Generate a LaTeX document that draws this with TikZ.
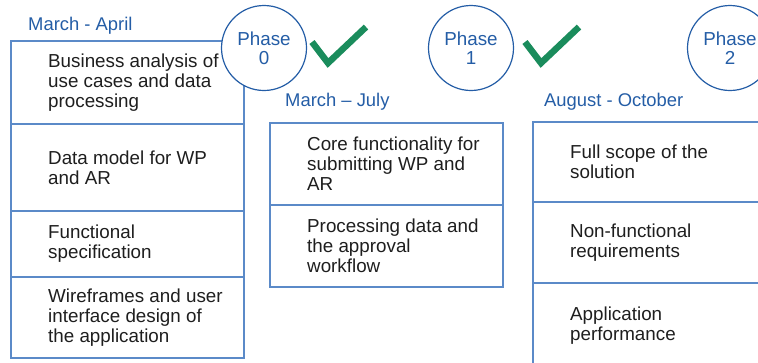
\documentclass[tikz,border=0pt]{standalone}
\usepackage{fontspec}
\setmainfont{Liberation Sans}
\usetikzlibrary{positioning}
\definecolor{phaseblue}{RGB}{36,93,166}
\definecolor{boxblue}{RGB}{91,138,200}
\definecolor{tickgreen}{RGB}{26,140,92}
\definecolor{inktext}{RGB}{30,30,30}
\tikzset{
  rowbox/.style={draw=boxblue, line width=1.5pt, rectangle, inner sep=0pt, outer sep=0pt, minimum width=233pt},
  rowtext/.style={inner sep=0pt, align=left, text=inktext, font=\fontsize{18.8}{20}\selectfont},
  period/.style={inner sep=0pt, anchor=base west, text=phaseblue, font=\fontsize{18.4}{20}\selectfont},
  phase/.style={draw=phaseblue, fill=white, circle, line width=1.2pt, minimum size=85pt, inner sep=0pt, align=center, text=phaseblue, font=\fontsize{18.8}{19}\selectfont},
  tick/.style={draw=tickgreen, line width=6.5pt}
}
\begin{document}
\begin{tikzpicture}[x=1pt, y=-1pt]
\clip (0,0) rectangle (758,362);
% phase 0 column
\node[period] (h0) at (28,30.5) {March - April};
\node[rowbox, minimum height=83pt, anchor=north west] (a1) at (11,41) {};
\node[rowbox, minimum height=87pt, below=0pt of a1] (a2) {};
\node[rowbox, minimum height=66pt, below=0pt of a2] (a3) {};
\node[rowbox, minimum height=81pt, below=0pt of a3] (a4) {};
\node[rowtext, right=37pt of a1.west] (ta1) {Business analysis of\\use cases and data\\processing};
\node[rowtext, right=37pt of a2.west] (ta2) {Data model for WP\\and AR};
\node[rowtext, right=37pt of a3.west] (ta3) {Functional\\specification};
\node[rowtext, right=37pt of a4.west] (ta4) {Wireframes and user\\interface design of\\the application};
% phase 1 column
\node[period] (h1) at (285,106.5) {March -- July};
\node[rowbox, minimum height=82pt, anchor=north west] (b1) at (270,123) {};
\node[rowbox, minimum height=82pt, below=0pt of b1] (b2) {};
\node[rowtext, right=37pt of b1.west] (tb1) {Core functionality for\\submitting WP and\\AR};
\node[rowtext, right=37pt of b2.west] (tb2) {Processing data and\\the approval\\workflow};
% phase 2 column
\node[period] (h2) at (544,106) {August - October};
\node[rowbox, minimum width=245pt, minimum height=80pt, anchor=north west] (c1) at (533,122) {};
\node[rowbox, minimum width=245pt, minimum height=81pt, below=0pt of c1] (c2) {};
\node[rowbox, minimum width=245pt, minimum height=85pt, below=0pt of c2] (c3) {};
\node[rowtext, right=37pt of c1.west] (tc1) {Full scope of the\\solution};
\node[rowtext, right=37pt of c2.west] (tc2) {Non-functional\\requirements};
\node[rowtext, right=37pt of c3.west] (tc3) {Application\\performance};
% phases and ticks
\node[phase] (p0) at (264,48) {Phase\\0};
\node[phase] (p1) at (471,48) {Phase\\1};
\node[phase] (p2) at (730,48) {Phase\\2};
\foreach \dx in {0,213}
  \draw[tick] ({312+\dx},42) -- ({328+\dx},63) -- ({366+\dx},27);
\end{tikzpicture}
\end{document}
